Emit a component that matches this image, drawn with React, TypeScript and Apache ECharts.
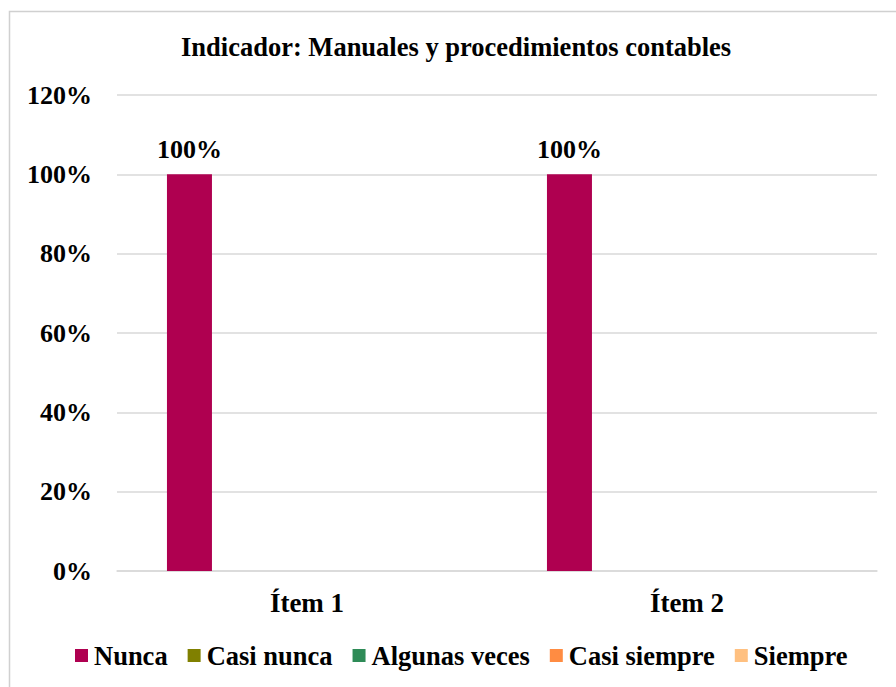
import React, { useEffect, useRef } from "react";
import * as echarts from "echarts";

const categories = ["Ítem 1", "Ítem 2"];
const seriesNames = ["Nunca", "Casi nunca", "Algunas veces", "Casi siempre", "Siempre"];
const nunca = [100, 100];
const casiNunca = [0, 0];
const algunasVeces = [0, 0];
const casiSiempre = [0, 0];
const siempre = [0, 0];
const seriesColors = ["#AF0050", "#808000", "#2E8B57", "#FF8C42", "#FFC080"];
const yTicks = [0, 20, 40, 60, 80, 100, 120];

const FONT = "'Liberation Serif', 'Times New Roman', serif";

export default function App() {
  const ref = useRef<HTMLDivElement>(null);
  useEffect(() => {
    document.body.style.margin = "0";
    const chart = echarts.init(ref.current!, null, { renderer: "svg" });
    const values = [nunca, casiNunca, algunasVeces, casiSiempre, siempre];
    chart.setOption({
      animation: false,
      backgroundColor: "#ffffff",
      textStyle: { fontFamily: FONT },
      title: {
        text: "Indicador: Manuales y procedimientos contables",
        left: 181,
        top: 33,
        padding: 0,
        textStyle: { fontFamily: FONT, fontWeight: "bold", fontSize: 26.5, color: "#000" },
      },
      graphic: [
        {
          type: "rect",
          shape: { x: 9.5, y: 11.5, width: 1000, height: 1000 },
          style: { fill: "none", stroke: "#d0d0d0", lineWidth: 1.5 },
          silent: true,
        },
      ],
      legend: {
        bottom: 13,
        left: 70,
        itemWidth: 13,
        itemHeight: 13,
        itemGap: 20,
        icon: "rect",
        textStyle: { fontFamily: FONT, fontWeight: "bold", fontSize: 26.5, color: "#000", padding: [0, 0, 0, 1] },
        data: seriesNames,
      },
      grid: { left: 117, right: 19, top: 95, bottom: 116, containLabel: false },
      xAxis: {
        type: "category",
        data: categories,
        axisLine: { lineStyle: { color: "#d9d9d9", width: 1.5 } },
        axisTick: { show: false },
        axisLabel: { fontFamily: FONT, fontWeight: "bold", fontSize: 27, color: "#000", margin: 18 },
      },
      yAxis: {
        type: "value",
        min: 0,
        max: 120,
        interval: 20,
        axisLine: { show: false },
        axisTick: { show: false },
        splitLine: { lineStyle: { color: "#d9d9d9", width: 1.5 } },
        axisLabel: {
          fontFamily: FONT,
          fontWeight: "bold",
          fontSize: 26,
          color: "#000",
          margin: 25,
          formatter: (v: number) => (yTicks.includes(v) ? v + "%" : ""),
        },
      },
      series: seriesNames.map((name, i) => ({
        name,
        type: "bar",
        data: values[i],
        barWidth: 45,
        barGap: "30.6%",
        itemStyle: { color: seriesColors[i] },
        label: {
          show: true,
          position: "top",
          distance: 12,
          fontFamily: FONT,
          fontWeight: "bold",
          fontSize: 26,
          color: "#000",
          formatter: (p: any) => (p.value ? p.value + "%" : ""),
        },
      })),
    });
    return () => chart.dispose();
  }, []);
  return <div ref={ref} style={{ width: 896, height: 687 }} />;
}
